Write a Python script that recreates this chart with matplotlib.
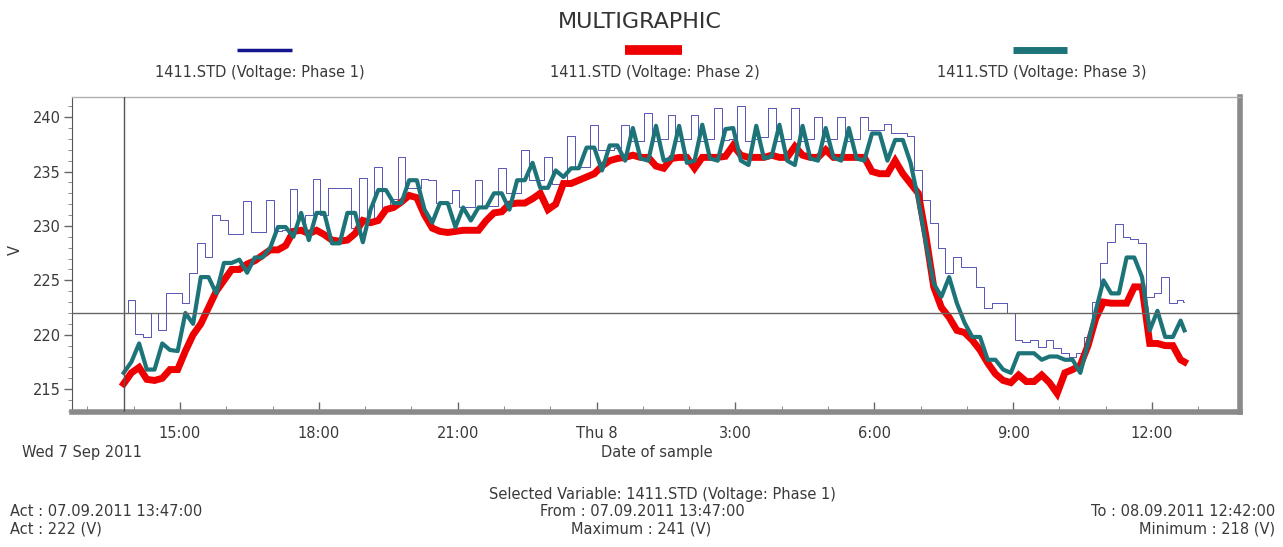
import numpy as np
import matplotlib.pyplot as plt
from matplotlib.lines import Line2D
from matplotlib.ticker import FixedLocator, MultipleLocator

plt.rcParams['font.family'] = ['DejaVu Sans']

# vzorky po 10 minutach od 7.9. 13:47, posledni vzorek 8.9. 12:42
start_hour = 13 + 47 / 60
step_hours = 10 / 60
end_hour = 24 + 12 + 42 / 60

phase1 = [222, 223.2, 220.1, 219.8, 222, 220.4, 223.8, 223.8, 222.9, 225.7,
          228.4, 227.1, 231, 230.5, 229.3, 229.3, 232.3, 229.4, 229.4, 232.4,
          229.5, 229.6, 233.4, 229.6, 231, 234.3, 231, 233.5, 233.5, 233.5,
          229.8, 234.4, 230.5, 235.4, 231.5, 232.5, 236.3, 233.5, 233.5, 234.3,
          234.2, 232.1, 232.1, 233.3, 231.7, 231.7, 234.2, 231.8, 231.8, 235.3,
          233, 233, 237, 234.2, 234.2, 236.3, 233.9, 233.9, 238.3, 235.4,
          235.4, 239.3, 237, 237, 237.2, 239.3, 237.8, 237.8, 240.4, 237.8,
          238, 240.2, 237.8, 238, 240.2, 237.8, 238, 240.8, 237.9, 238,
          241, 237.8, 238, 238.2, 240.8, 237.8, 238, 240.8, 237.8, 238,
          240, 237.8, 238, 240, 237.8, 238, 240, 238.8, 238.8, 239.4,
          238.5, 238.5, 238.3, 235.1, 232.4, 230.3, 228, 225.7, 227.1, 226.2,
          226.2, 224.4, 222.5, 222.9, 222.9, 222, 219.5, 219.3, 219.5, 218.9,
          219.5, 218.8, 218.3, 218, 218.3, 219.8, 223, 226.6, 228.5, 230.2,
          229, 228.8, 228.4, 223.5, 223.8, 225.3, 222.9, 223.2, 223]

phase2 = [215.5, 216.5, 217, 215.9, 215.8, 216, 216.8, 216.8, 218.5, 220,
          221, 222.5, 224, 225, 226, 226, 226.5, 226.8, 227.3, 227.8,
          227.8, 228.2, 229.5, 229.6, 229.3, 229.6, 229.2, 228.7, 228.6, 228.7,
          229.3, 230.5, 230.3, 230.5, 231.5, 231.7, 232.2, 232.8, 232.6, 231,
          229.8, 229.5, 229.4, 229.5, 229.6, 229.6, 229.6, 230.5, 231.2, 231.3,
          232, 232.1, 232.1, 232.5, 233, 231.5, 232, 233.9, 233.9, 234.2,
          234.5, 234.8, 235.5, 236, 236.2, 236.3, 236.5, 236.3, 236.3, 235.5,
          235.3, 236.2, 236.3, 236.3, 235.3, 236.3, 236.3, 236.3, 236.4, 237.4,
          236.5, 236.3, 236.3, 236.3, 236.5, 236.3, 236.3, 237.3, 236.5, 236.3,
          236.3, 237, 236.3, 236.3, 236.3, 236.3, 236.3, 235, 234.8, 234.8,
          236, 234.8, 233.9, 233, 229, 224.4, 222.5, 221.6, 220.4, 220.2,
          219.5, 218.6, 217.4, 216.4, 215.8, 215.6, 216.3, 215.7, 215.7, 216.3,
          215.6, 214.6, 216.5, 216.8, 217.2, 219, 221.5, 223, 222.9, 222.9,
          222.9, 224.4, 224.4, 219.2, 219.2, 219, 219, 217.7, 217.5]

phase3 = [216.5, 217.5, 219.2, 216.8, 216.8, 219.2, 218.6, 218.5, 222, 221,
          225.3, 225.3, 223.8, 226.6, 226.6, 226.9, 225.7, 227.1, 227.1, 228,
          229.9, 229.9, 229, 231.2, 228.7, 231.2, 231.2, 228.4, 228.4, 231.2,
          231.2, 228.5, 231.5, 233.3, 233.3, 232.1, 232.1, 234.2, 234.2, 231.5,
          230.3, 232.1, 232.1, 229.9, 231.7, 230.5, 231.7, 231.7, 233, 233,
          231.5, 234.2, 234.2, 235.8, 233.5, 233.5, 235.1, 234.5, 235.3, 235.3,
          237.2, 237.2, 235.1, 237.4, 237.4, 236, 239, 236.2, 236, 239.2,
          236, 236.2, 239.2, 235.8, 236, 239.3, 236.2, 236, 238.9, 239,
          236, 235.6, 239.2, 236.2, 236.4, 239.3, 236, 235.6, 239.2, 236.2,
          236, 239, 236.3, 236, 239, 236.2, 236, 238.5, 238.5, 236,
          237.9, 237.9, 235.8, 232.4, 228.4, 224.7, 223.5, 225.3, 222.9, 221.1,
          219.8, 219.8, 217.7, 217.7, 216.8, 216.5, 218.3, 218.3, 218.3, 217.7,
          218, 218, 217.7, 217.7, 216.5, 219.2, 222.2, 225, 223.8, 223.8,
          227.1, 227.1, 225.3, 220.4, 222.2, 219.8, 219.8, 221.3, 220.4]

labels = ['1411.STD (Voltage: Phase 1)', '1411.STD (Voltage: Phase 2)',
          '1411.STD (Voltage: Phase 3)']
colors = ['#14148c', '#ee0000', '#1d7478']

tick_hours = [15, 18, 21, 24, 27, 30, 33, 36]
tick_labels = ['15:00', '18:00', '21:00', 'Thu 8', '3:00', '6:00', '9:00', '12:00']

n = len(phase1) - 1
t = list(start_hour + step_hours * np.arange(n)) + [end_hour]

W, H = 1283, 547


def px(x, y):
    return x / W, 1 - y / H


fig = plt.figure(figsize=(W / 100, H / 100), dpi=100)
ax = fig.add_axes([72 / W, 1 - 412 / H, (1240 - 72) / W, (412 - 97) / H])

ax.plot(t, phase1, color='#3a3aa8', lw=0.6, drawstyle='steps-mid', zorder=3)
ax.plot(t, phase2, color=colors[1], lw=5, solid_joinstyle='miter', zorder=4)
ax.plot(t, phase3, color=colors[2], lw=3, zorder=5)

# kurzor
ax.axvline(t[0], color='#555555', lw=1, zorder=6)
ax.axhline(phase1[0], color='#666666', lw=1, zorder=6)

ax.set_xlim(12.667, 37.9)
ax.set_ylim(212.9, 241.85)

ax.xaxis.set_major_locator(FixedLocator(tick_hours))
ax.set_xticks(tick_hours)
ax.set_xticklabels(tick_labels)
ax.xaxis.set_minor_locator(MultipleLocator(1))
ax.yaxis.set_major_locator(MultipleLocator(5))
ax.yaxis.set_minor_locator(MultipleLocator(1))
ax.tick_params(axis='x', which='major', direction='in', length=7, width=1,
               color='#666666', labelsize=10.5, labelcolor='#3a3a3a', pad=10)
ax.tick_params(axis='x', which='minor', direction='in', length=4, color='#777777')
ax.tick_params(axis='y', which='major', direction='out', length=6, width=1,
               color='#666666', labelsize=10.5, labelcolor='#3a3a3a', pad=2)
ax.tick_params(axis='y', which='minor', direction='out', length=3, color='#777777')

ax.spines['left'].set_color('#555555')
ax.spines['top'].set_color('#b0b0b0')
ax.spines['top'].set_linewidth(1)
ax.spines['bottom'].set_color('#8a8a8a')
ax.spines['bottom'].set_linewidth(4)
ax.spines['right'].set_color('#8a8a8a')
ax.spines['right'].set_linewidth(4)

txt = dict(color='#3a3a3a', fontsize=10.5, va='center')

fig.text(*px(640, 22), 'MULTIGRAPHIC', ha='center', va='center',
         fontsize=16, color='#333333')

# legenda: znacka nad popiskem
swatch_x = [(237, 292), (625, 682), (1013, 1067)]
swatch_lw = [2.5, 7, 5]
label_x = [260, 655, 1042]
for (x0, x1), lw, c, lab, lx in zip(swatch_x, swatch_lw, colors, labels, label_x):
    fig.add_artist(Line2D([x0 / W, x1 / W], [1 - 50 / H, 1 - 50 / H],
                          color=c, lw=lw, solid_capstyle='butt'))
    fig.text(*px(lx, 72), lab, ha='center', **txt)

fig.text(*px(15, 250), 'V', rotation=90, ha='center', **txt)
fig.text(*px(22, 453), 'Wed 7 Sep 2011', ha='left', **txt)
fig.text(*px(657, 453), 'Date of sample', ha='center', **txt)

fig.text(*px(662, 494), 'Selected Variable: ' + labels[0], ha='center', **txt)
fig.text(*px(642, 512), 'From : 07.09.2011 13:47:00', ha='center', **txt)
fig.text(*px(641, 529), 'Maximum : %d (V)' % round(max(phase1)), ha='center', **txt)
fig.text(*px(10, 512), 'Act : 07.09.2011 13:47:00', ha='left', **txt)
fig.text(*px(10, 529), 'Act : %d (V)' % round(phase1[0]), ha='left', **txt)
fig.text(*px(1275, 512), 'To : 08.09.2011 12:42:00', ha='right', **txt)
fig.text(*px(1275, 529), 'Minimum : %d (V)' % round(min(phase1)), ha='right', **txt)

fig.savefig('out.png', dpi=100)
